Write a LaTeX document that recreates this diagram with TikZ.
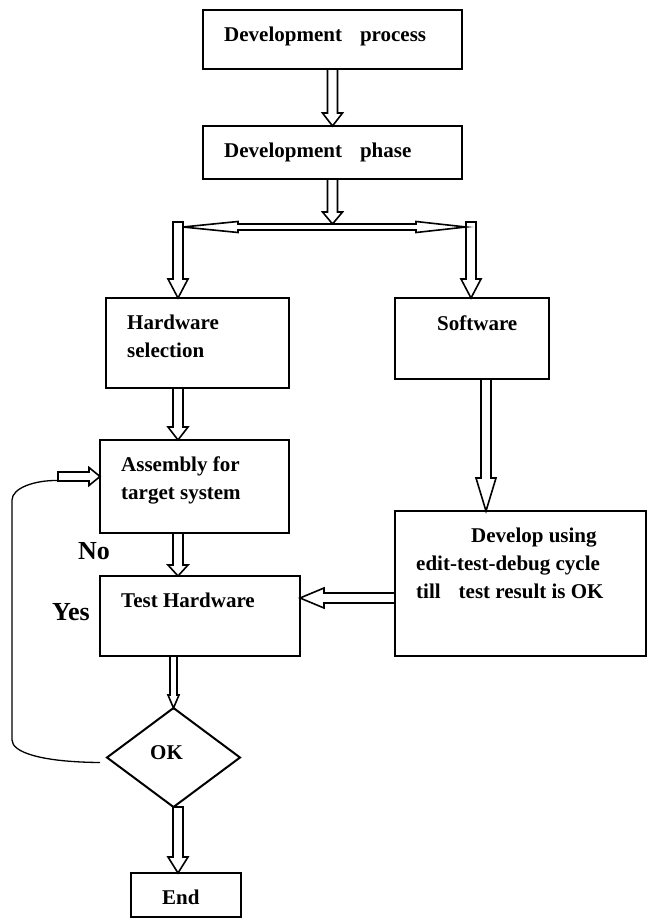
\documentclass[tikz,border=0pt]{standalone}
\usepackage{fontspec}
\setmainfont{Liberation Serif}
\usetikzlibrary{calc}
\usetikzlibrary{shapes.geometric}

\tikzset{
  box/.style={draw, line width=2pt, inner sep=0pt, outer sep=0pt},
  lbl/.style={anchor=base west, inner sep=0pt, align=left, font=\bfseries\fontsize{21pt}{28pt}\selectfont},
  side/.style={anchor=base west, inner sep=0pt, font=\bfseries\fontsize{26pt}{30pt}\selectfont},
  arrowline/.style={draw, fill=white, line width=1.6pt},
  loopline/.style={draw, line width=1.3pt},
}

% hollow block arrow: from, to, half shaft, half head, head length
\newcommand{\hollowarrow}[5]{%
  \coordinate (tip) at (#2);
  \coordinate (neck) at ($(#2)!#5!(#1)$);
  \draw[arrowline] ($(#1)!#3!90:(tip)$) -- ($(neck)!#3!90:(tip)$) -- ($(neck)!#4!90:(tip)$)
    -- (tip) -- ($(neck)!#4!-90:(tip)$) -- ($(neck)!#3!-90:(tip)$) -- ($(#1)!#3!-90:(tip)$) -- cycle;
}

\begin{document}
\begin{tikzpicture}[x=1pt, y=-1pt]
  \useasboundingbox (0,0) rectangle (648,918);

  % boxes
  \node[box, minimum width=259pt, minimum height=59pt] (proc) at (332.5,39.5) {};
  \node[box, minimum width=259pt, minimum height=53pt] (phase) at (332.5,152.5) {};
  \node[box, minimum width=183pt, minimum height=90pt] (hw) at (197.5,343) {};
  \node[box, minimum width=154pt, minimum height=81pt] (sw) at (472,338.5) {};
  \node[box, minimum width=189pt, minimum height=93pt] (asm) at (194.5,486.5) {};
  \node[box, minimum width=251pt, minimum height=145pt] (dev) at (520.5,583.5) {};
  \node[box, minimum width=200pt, minimum height=80pt] (test) at (200,616) {};
  \node[box, diamond, minimum width=133pt, minimum height=99pt] (ok) at (173.5,757.5) {};
  \node[box, minimum width=110pt, minimum height=44pt] (end) at (186,895) {};

  % texts (base = last line)
  \node[lbl] (proc-t) at ([xshift=21pt, yshift=-31pt]proc.north west) {Development\hspace{18pt}process};
  \node[lbl] (phase-t) at ([xshift=21pt, yshift=-31pt]phase.north west) {Development\hspace{18pt}phase};
  \node[lbl] (hw-t) at ([xshift=21pt, yshift=-59pt]hw.north west) {Hardware\\selection};
  \node[lbl] (sw-t) at ([xshift=42pt, yshift=-32pt]sw.north west) {Software};
  \node[lbl] (asm-t) at ([xshift=21pt, yshift=-59pt]asm.north west) {Assembly for\\target system};
  \node[lbl] (dev-t) at ([xshift=21pt, yshift=-87pt]dev.north west) {\hspace*{55pt}Develop using\\edit-test-debug cycle\\till\hspace{18pt}test result is OK};
  \node[lbl] (test-t) at ([xshift=21pt, yshift=-31pt]test.north west) {Test Hardware};
  \node[lbl] (ok-t) at (150,759) {OK};
  \node[lbl] (end-t) at ([xshift=31pt, yshift=-31pt]end.north west) {End};
  \node[side] (no) at (78,559) {No};
  \node[side] (yes) at (52,620) {Yes};

  % axes of the arrows
  \coordinate (split) at (332.5,224);
  \coordinate (hw-top) at (178,222);
  \coordinate (sw-top) at (471,222);
  \coordinate (sw-axis) at (486,379);
  \coordinate (dev-axis) at (395,598);
  \coordinate (loop) at (58,476.5);

  % arrows
  \hollowarrow{proc.south}{phase.north}{5pt}{10pt}{13pt}
  \hollowarrow{phase.south}{split}{5pt}{10pt}{12pt}
  \hollowarrow{hw-top}{hw.north -| hw-top}{5pt}{10pt}{19pt}
  \hollowarrow{sw-top}{sw.north -| sw-top}{5pt}{10pt}{19pt}
  \coordinate (hl) at ([xshift=5pt, yshift=-5pt]hw-top);
  \coordinate (hr) at ([xshift=-5pt, yshift=-5pt]sw-top);
  \draw[arrowline] (hl) -- ++(55,-5.5) -- ++(0,2.5) -- ($(hr)+(-50,-3)$) -- ++(0,-2.5) -- (hr)
    -- ++(-50,5.5) -- ++(0,-2.5) -- ($(hl)+(55,3)$) -- ++(0,2.5) -- cycle;
  \hollowarrow{hw.south -| hw-top}{asm.north -| hw-top}{5pt}{10pt}{13pt}
  \hollowarrow{sw.south -| sw-axis}{dev.north -| sw-axis}{5pt}{10pt}{33pt}
  \hollowarrow{asm.south -| hw-top}{test.north -| hw-top}{5pt}{10pt}{11pt}
  \hollowarrow{dev.west |- dev-axis}{test.east |- dev-axis}{5pt}{10pt}{24pt}
  \hollowarrow{test.south -| ok}{ok.north}{3.5pt}{5.5pt}{13pt}
  \hollowarrow{ok.south -| hw-top}{end.north -| hw-top}{5pt}{10pt}{16pt}
  \hollowarrow{loop}{asm.west |- loop}{4.5pt}{9pt}{11pt}

  % back loop from the decision
  \draw[loopline] ([xshift=-7pt, yshift=-5pt]ok.west) .. controls (40,762) and (12,752) .. (12,740)
    -- (12,500) .. controls (12,488) and (35,480) .. ([yshift=-4pt]loop);
\end{tikzpicture}
\end{document}
